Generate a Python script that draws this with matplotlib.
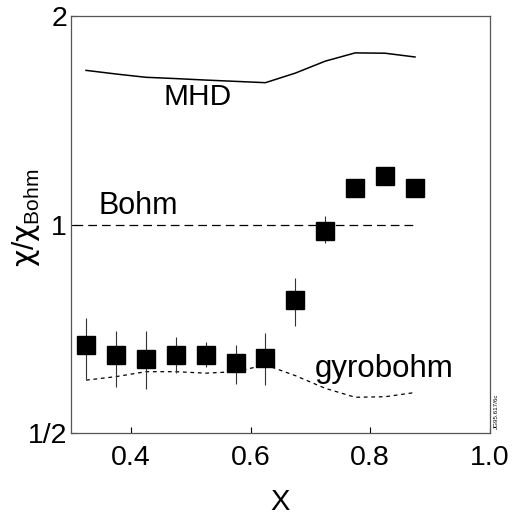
import matplotlib
matplotlib.use("Agg")
import matplotlib.pyplot as plt
from matplotlib.ticker import FixedLocator, FixedFormatter, NullLocator

plt.rcParams['font.family'] = ['Liberation Sans', 'DejaVu Sans']
plt.rcParams['mathtext.fontset'] = 'custom'
plt.rcParams['mathtext.rm'] = 'Liberation Sans'
plt.rcParams['mathtext.it'] = 'DejaVu Sans'

# measured data
x_pts = [0.325, 0.375, 0.425, 0.475, 0.525, 0.575, 0.625, 0.675, 0.725, 0.775, 0.825, 0.875]
y_pts = [0.670, 0.647, 0.639, 0.647, 0.649, 0.632, 0.641, 0.778, 0.980, 1.129, 1.175, 1.129]
y_hi = [0.733, 0.702, 0.702, 0.688, 0.676, 0.670, 0.698, 0.837, 1.030, 1.150, 1.195, 1.150]
y_lo = [0.599, 0.583, 0.579, 0.611, 0.623, 0.589, 0.587, 0.714, 0.939, 1.110, 1.155, 1.110]

x_mhd = [0.325, 0.375, 0.425, 0.475, 0.525, 0.575, 0.625, 0.675, 0.725, 0.775, 0.825, 0.875]
y_mhd = [1.670, 1.650, 1.632, 1.625, 1.617, 1.610, 1.603, 1.655, 1.722, 1.770, 1.768, 1.746]

x_bohm = [0.305, 0.875]
y_bohm = [1.0, 1.0]

x_gb = [0.325, 0.375, 0.425, 0.475, 0.525, 0.575, 0.625, 0.675, 0.725, 0.775, 0.825, 0.875]
y_gb = [0.596, 0.603, 0.613, 0.613, 0.610, 0.613, 0.627, 0.605, 0.580, 0.563, 0.564, 0.572]

x_ticks = [0.4, 0.6, 0.8, 1.0]
x_ticklabels = ['0.4', '0.6', '0.8', '1.0']
y_ticks = [0.5, 1.0, 2.0]
y_ticklabels = ['1/2', '1', '2']

fig = plt.figure(figsize=(5.15, 5.21), dpi=100)
ax = fig.add_axes([0.138, 0.169, 0.813, 0.800])
ax.set_yscale('log')
ax.set_xlim(0.3, 1.0)
ax.set_ylim(0.5, 2.0)

ax.plot(x_mhd, y_mhd, color='black', lw=1.1)
ax.plot(x_bohm, y_bohm, color='black', lw=0.9, dashes=(7, 4))
ax.plot(x_gb, y_gb, color='black', lw=0.9, dashes=(3, 3))

err_lo = [y - l for y, l in zip(y_pts, y_lo)]
err_hi = [h - y for y, h in zip(y_pts, y_hi)]
ax.errorbar(x_pts, y_pts, yerr=[err_lo, err_hi], fmt='s', color='black',
            ms=13.5, ecolor='#333333', elinewidth=0.8, capsize=0)

ax.text(0.511, 1.527, 'MHD', fontsize=21.5, ha='center', va='center')
ax.text(0.413, 1.062, 'Bohm', fontsize=22, ha='center', va='center')
ax.text(0.824, 0.619, 'gyrobohm', fontsize=22.5, ha='center', va='center')

ax.xaxis.set_major_locator(FixedLocator(x_ticks))
ax.xaxis.set_major_formatter(FixedFormatter(x_ticklabels))
ax.yaxis.set_major_locator(FixedLocator(y_ticks))
ax.yaxis.set_major_formatter(FixedFormatter(y_ticklabels))
ax.yaxis.set_minor_locator(NullLocator())
ax.tick_params(axis='x', direction='in', length=4, width=0.8, labelsize=20.5, pad=9, colors='black')
ax.tick_params(axis='y', direction='in', length=4, width=0.8, labelsize=20.5, pad=3, colors='black')
for s in ax.spines.values():
    s.set_color('#555555')
    s.set_linewidth(0.9)

ax.set_xlabel('X', fontsize=21, labelpad=12)
ax.set_ylabel(r'$\chi/\chi_{\rm Bohm}$', fontsize=21.5)
ax.yaxis.set_label_coords(-0.069, 0.515)

fig.text(0.963, 0.21, 'JG95.617/6c', fontsize=4.5, rotation=90, ha='center', va='center')

fig.savefig('out.png', dpi=100)
